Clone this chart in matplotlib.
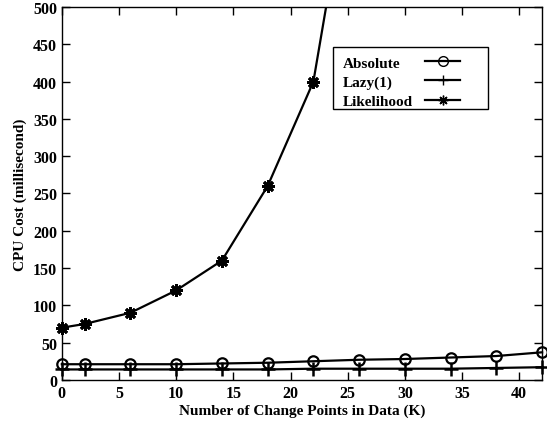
import matplotlib
matplotlib.use("Agg")
import matplotlib.pyplot as plt
from matplotlib.patches import Rectangle

x_vals = [0, 2, 6, 10, 14, 18, 22, 26, 30, 34, 38, 42]
absolute = [21, 21, 21, 21, 22, 23, 25, 27, 28, 30, 32, 37]
lazy = [14, 14, 14, 14, 14, 14, 15, 15, 15, 15, 16, 17]
like_x = [0, 2, 6, 10, 14, 18, 22, 26]
likelihood = [70, 75, 90, 120, 160, 260, 400, 760]

plt.rcParams['font.family'] = ['Liberation Serif', 'DejaVu Serif']
plt.rcParams['font.weight'] = 'bold'

fig = plt.figure(figsize=(5.47, 4.27), dpi=100)
ax = fig.add_axes([0.113, 0.108, 0.878, 0.873])

star = (8, 2, 0)
ax.plot(x_vals, absolute, color='black', lw=1.6, marker='o', ms=7.5,
        mfc='none', mec='black', mew=1.6, label='Absolute', clip_on=False, zorder=3)
ax.plot(x_vals, lazy, color='black', lw=1.6, marker='+', ms=10,
        mew=1.8, label='Lazy(1)', clip_on=False, zorder=3)
ax.plot(like_x, likelihood, color='black', lw=1.6, label='_nolegend_')
vis = [(a, b) for a, b in zip(like_x, likelihood) if b <= 500]
ax.plot([a for a, b in vis], [b for a, b in vis], ls='none', marker=star,
        ms=9, mec='black', mew=2.0, clip_on=False, zorder=3)
ax.plot([], [], color='black', lw=1.6, marker=star, ms=7, mew=1.2, label='Likelihood')

ax.set_xlim(0, 42)
ax.set_ylim(0, 500)
ax.set_xticks(range(0, 41, 5))
ax.set_yticks(range(0, 501, 50))
ax.tick_params(direction='in', top=True, right=True, length=6, width=1,
               labelsize=11.5)
for lab in ax.get_xticklabels() + ax.get_yticklabels():
    lab.set_fontweight('bold')
for s in ax.spines.values():
    s.set_linewidth(1.0)

ax.set_xlabel('Number of Change Points in Data (K)', fontsize=11, fontweight='bold', labelpad=2)
ax.set_ylabel('CPU Cost (millisecond)', fontsize=11, fontweight='bold', labelpad=4)

# legend frame drawn separately
fig.patches.append(Rectangle((333 / 547, 1 - 110 / 427), 155 / 547, 62 / 427,
                             transform=fig.transFigure, fill=True, facecolor='white',
                             edgecolor='black', lw=1.0, zorder=5))

h, l = ax.get_legend_handles_labels()
leg = fig.legend(h, l, loc='upper left', bbox_to_anchor=(343 / 547, 1 - 57 / 427),
                 frameon=False, markerfirst=False, handlelength=2.3, fontsize=11,
                 borderpad=0, borderaxespad=0, labelspacing=0.35, handletextpad=0.8)
leg.set_zorder(6)
for t in leg.get_texts():
    t.set_fontweight('bold')
for lh in leg.get_lines():
    lh.set_markersize(7)
    lh.set_markeredgewidth(1.0)

# left-align labels while keeping handles aligned
fig.canvas.draw()
renderer = fig.canvas.get_renderer()
p2p = renderer.points_to_pixels(1.0)
for col in leg._legend_handle_box.get_children():
    col.align = 'left'
    rows = col.get_children()
    widths = [r.get_children()[0].get_window_extent(renderer).width for r in rows]
    mw = max(widths)
    for r, w in zip(rows, widths):
        r.sep = r.sep + (mw - w) / p2p

fig.savefig('out.png', dpi=100)
